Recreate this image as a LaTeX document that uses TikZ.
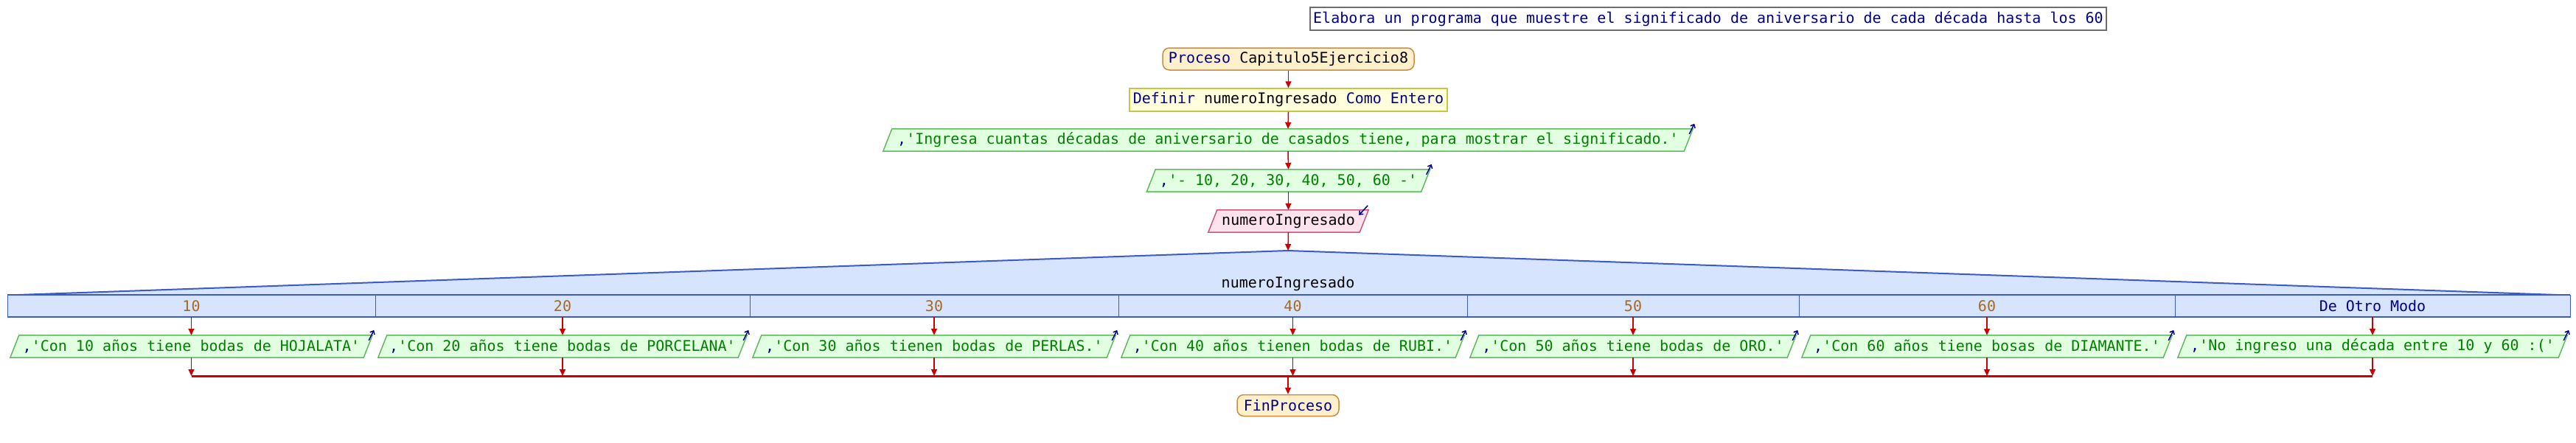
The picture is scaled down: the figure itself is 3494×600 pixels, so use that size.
\documentclass[tikz,border=0pt]{standalone}
\usepackage{fontspec}
\newfontfamily\pmono[Ligatures=TeXOff]{DejaVu Sans Mono}
\usetikzlibrary{arrows.meta,calc,backgrounds}
\definecolor{kwblue}{RGB}{0,0,140}
\definecolor{strgreen}{RGB}{0,128,0}
\definecolor{numbrown}{RGB}{165,105,30}
\definecolor{flowred}{RGB}{204,0,0}
\definecolor{procfill}{RGB}{255,240,204}
\definecolor{procdraw}{RGB}{204,140,60}
\definecolor{deffill}{RGB}{255,255,221}
\definecolor{defdraw}{RGB}{200,200,60}
\definecolor{outfill}{RGB}{226,255,226}
\definecolor{outdraw}{RGB}{96,187,96}
\definecolor{infill}{RGB}{255,226,238}
\definecolor{indraw}{RGB}{200,90,130}
\definecolor{swfill}{RGB}{214,228,253}
\definecolor{swdraw}{RGB}{60,90,200}
\definecolor{comdraw}{RGB}{110,110,110}
\newcommand\mypgram[2]{\filldraw[#2] (#1.south west) -- ($(#1.north west)+(12,0)$) -- (#1.north east) -- ($(#1.south east)+(-12,0)$) -- cycle;}
\begin{document}
\begin{tikzpicture}[x=1pt,y=-1pt,
  every node/.style={font=\pmono\fontsize{20}{24}\selectfont, inner sep=0pt},
  flow/.style={draw=flowred, line width=1.5pt, -{Triangle[length=9pt,width=8pt]}},
  merge/.style={draw=flowred, line width=3pt},
  combox/.style={draw=comdraw, fill=white, line width=1.5pt, minimum height=31pt, text=kwblue},
  procbox/.style={draw=procdraw, fill=procfill, line width=1.5pt, rounded corners=9pt, minimum height=30pt},
  defbox/.style={draw=defdraw, fill=deffill, line width=1.5pt, minimum height=31pt},
  outtext/.style={minimum height=30pt, text=strgreen},
  intext/.style={minimum height=30pt, text=black},
  outshape/.style={fill=outfill, draw=outdraw, line width=1.5pt},
  inshape/.style={fill=infill, draw=indraw, line width=1.5pt},
  cell/.style={draw=swdraw, line width=0.8pt, fill=swfill, minimum height=30pt, text=numbrown},
  outmark/.style={draw=kwblue, line width=1.5pt, -{Straight Barb[length=4pt,width=7pt]}}
]
\useasboundingbox (0,0) rectangle (3494,600);

\node[combox, minimum width=1080pt] (com) at (2317,25.5) {Elabora un programa que muestre el significado de aniversario de cada década hasta los 60};
\node[procbox, minimum width=341pt] (ini) at (1747.5,80) {{\color{kwblue}Proceso} Capitulo5Ejercicio8};
\node[defbox, minimum width=431pt] (def) at (1747.5,135.5) {{\color{kwblue}Definir} numeroIngresado {\color{kwblue}Como Entero}};
\node[outtext, minimum width=1098pt] (e1) at (1747,190) {{\color{kwblue},}'Ingresa cuantas décadas de aniversario de casados tiene, para mostrar el significado.'};
\node[outtext, minimum width=384pt] (e2) at (1747.5,245) {{\color{kwblue},}'- 10, 20, 30, 40, 50, 60 -'};
\node[intext, minimum width=217pt] (lee) at (1747.5,300) {numeroIngresado};

% switch
\coordinate (swtop) at (1747,340);
\fill[swfill] (25,400) -- (swtop) -- (3468,400) -- cycle;
\draw[swdraw, line width=2pt] (25,400) -- (swtop) -- (3468,400);
\node (swhead) at (1747,385) {numeroIngresado};
\node[cell, minimum width=499pt] (c1) at (259.5,415) {10};
\node[cell, minimum width=508pt] (c2) at (763,415) {20};
\node[cell, minimum width=500pt] (c3) at (1267,415) {30};
\node[cell, minimum width=473pt] (c4) at (1753.5,415) {40};
\node[cell, minimum width=450pt] (c5) at (2215,415) {50};
\node[cell, minimum width=510pt] (c6) at (2695,415) {60};
\node[cell, minimum width=536pt, text=kwblue] (c7) at (3218,415) {De Otro Modo};
\draw[swdraw, line width=2pt] (c1.north west) -- (c7.north east);
\draw[swdraw, line width=2pt] (c1.south west) -- (c7.south east);

% outputs
\node[outtext, minimum width=491pt] (o1) at (259.5,470) {{\color{kwblue},}'Con 10 años tiene bodas de HOJALATA'};
\node[outtext, minimum width=500pt] (o2) at (763,470) {{\color{kwblue},}'Con 20 años tiene bodas de PORCELANA'};
\node[outtext, minimum width=492pt] (o3) at (1267,470) {{\color{kwblue},}'Con 30 años tienen bodas de PERLAS.'};
\node[outtext, minimum width=465pt] (o4) at (1753.5,470) {{\color{kwblue},}'Con 40 años tienen bodas de RUBI.'};
\node[outtext, minimum width=442pt] (o5) at (2215,470) {{\color{kwblue},}'Con 50 años tiene bodas de ORO.'};
\node[outtext, minimum width=502pt] (o6) at (2695,470) {{\color{kwblue},}'Con 60 años tiene bosas de DIAMANTE.'};
\node[outtext, minimum width=528pt] (o7) at (3218,470) {{\color{kwblue},}'No ingreso una década entre 10 y 60 :('};

\node[procbox, minimum width=138pt, minimum height=29pt] (fin) at (1747,550) {\color{kwblue}FinProceso};

\begin{scope}[on background layer]
\mypgram{e1}{outshape}
\mypgram{e2}{outshape}
\mypgram{lee}{inshape}
\foreach \o in {o1,o2,o3,o4,o5,o6,o7}{\mypgram{\o}{outshape}}
\end{scope}

% markers
\foreach \o in {e1,e2,o1,o2,o3,o4,o5,o6,o7}{
  \draw[outmark] ($(\o.north east)+(-5,7)$) -- ($(\o.north east)+(2,-7)$);
}
\draw[outmark] ($(lee.north east)+(-1,-6)$) -- ($(lee.north east)+(-13,7)$);

% flow
\draw[flow] (ini.south) -- (def.north);
\draw[flow] (def.south) -- (e1.north);
\draw[flow] (e1.south) -- (e2.north);
\draw[flow] (e2.south) -- (lee.north);
\draw[flow] (lee.south) -- (swtop);
\foreach \i in {1,...,7}{
  \draw[flow] (c\i.south) -- (o\i.north);
  \coordinate (m\i) at (o\i.south |- 0,510);
  \draw[flow] (o\i.south) -- (m\i);
}
\draw[merge] (m1) -- (m7);
\coordinate (mc) at (1747,510);
\draw[flow] (mc) -- (fin.north);
\end{tikzpicture}
\end{document}
